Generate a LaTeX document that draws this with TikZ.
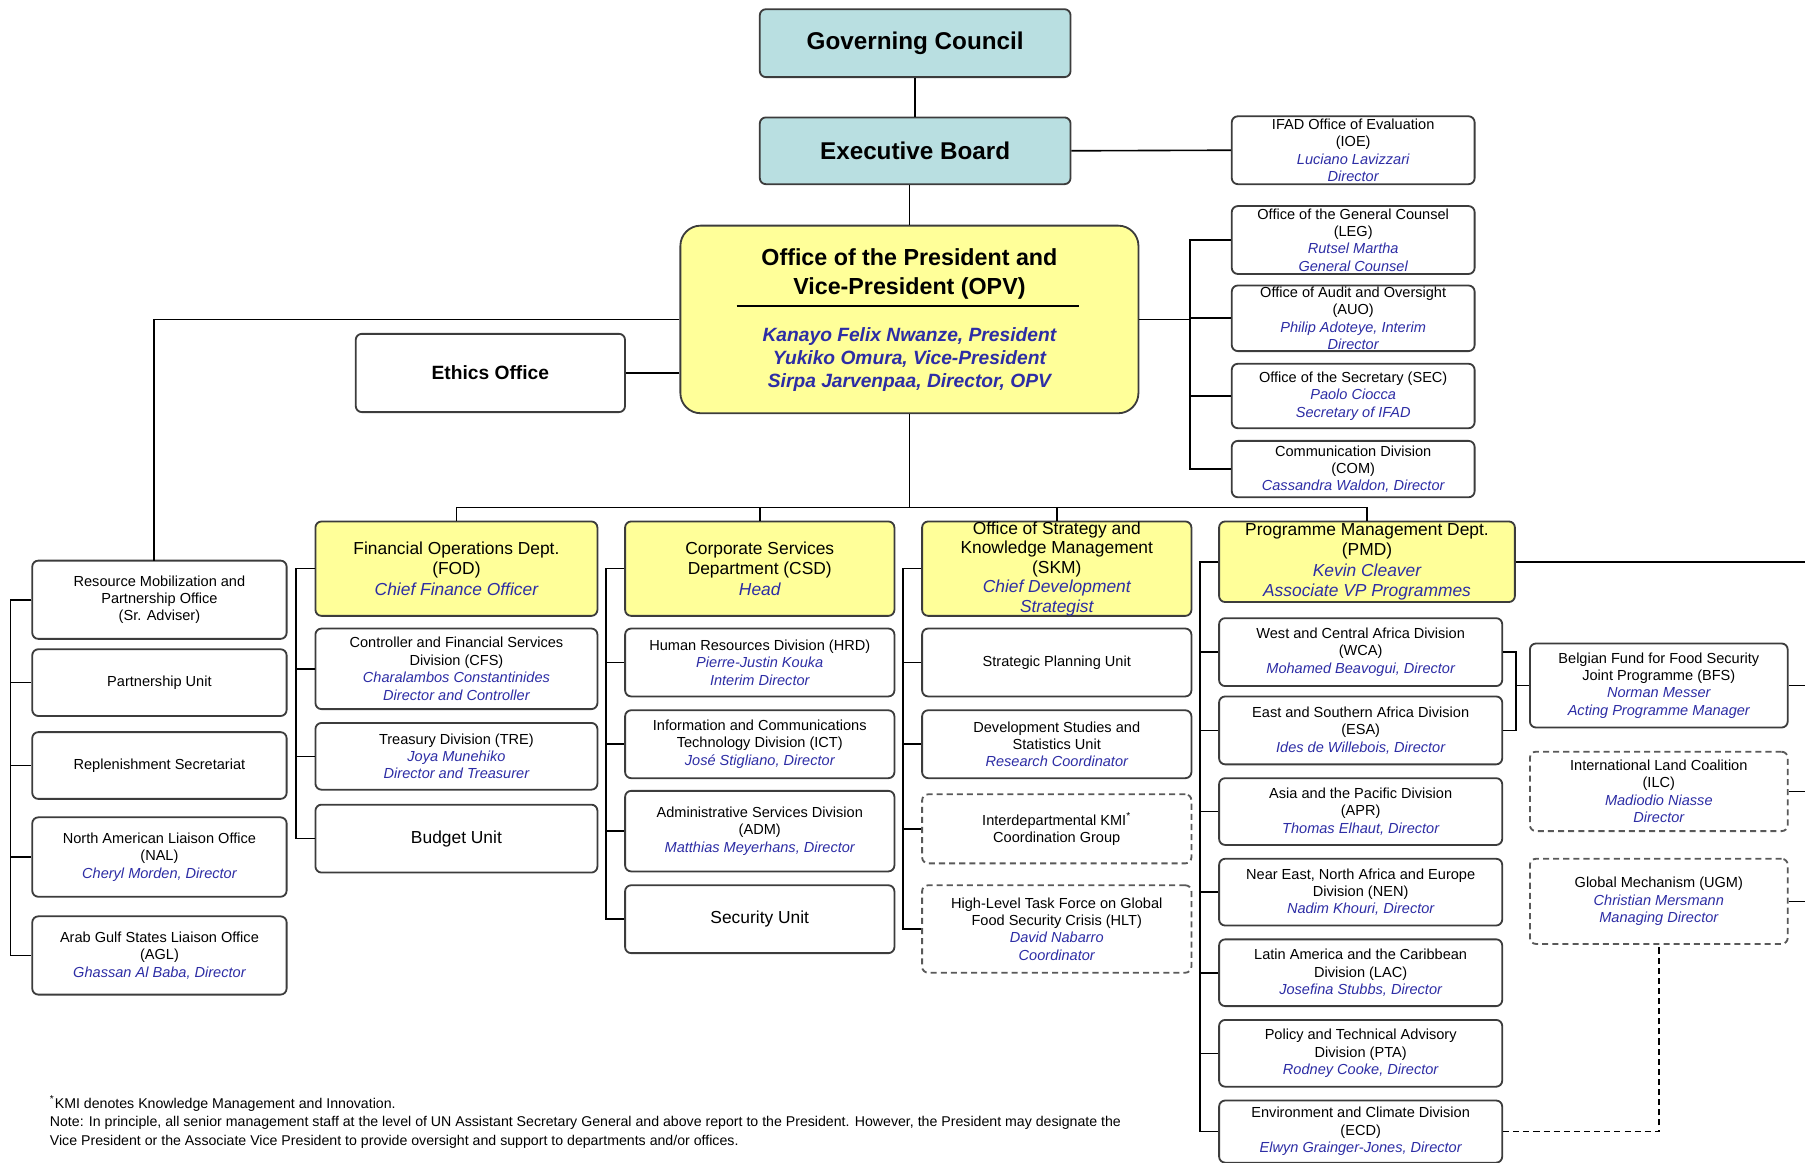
\documentclass[tikz,border=0pt]{standalone}
\usepackage{fontspec}
\setmainfont{Liberation Sans}

\definecolor{boardteal}{RGB}{185,223,225}
\definecolor{deptyellow}{RGB}{255,255,153}
\definecolor{nameblue}{RGB}{45,45,165}
\definecolor{boxline}{RGB}{60,60,60}

\newcommand{\who}[1]{{\color{nameblue}\itshape #1}}

\tikzset{
  unitbox/.style={draw=boxline, line width=0.9pt, rounded corners=3pt, fill=white,
    align=center, inner sep=0pt, font=\fontsize{7.2}{8.6}\selectfont},
  deptbox/.style={unitbox, fill=deptyellow, font=\fontsize{8.6}{10}\selectfont},
  boardbox/.style={unitbox, fill=boardteal, font=\fontsize{12}{14}\selectfont\bfseries},
  loosebox/.style={unitbox, draw=boxline!85, dash pattern=on 3pt off 2pt},
  bigunit/.style={font=\fontsize{8.6}{10}\selectfont},
  link/.style={line width=0.8pt, black},
}

\begin{document}
\begin{tikzpicture}[x=0.02cm, y=-0.02cm]
        \useasboundingbox (0,0) rectangle (1568,1010);

        % Governing bodies
        \node[boardbox, minimum width=5.4cm, minimum height=1.18cm] (gc) at (795,37.5) {Governing Council};
        \node[boardbox, minimum width=5.4cm, minimum height=1.16cm] (eb) at (795,131) {Executive Board};

        % Office of the President
        \node[unitbox, fill=deptyellow, rounded corners=10pt, minimum width=7.96cm, minimum height=3.26cm] (opv) at (790,277.5) {};
        \node[font=\fontsize{11.5}{14.2}\selectfont\bfseries, align=center, inner sep=0pt] (opvtitle) at (790,238) {Office of the President and\\Vice-President (OPV)};
        \draw[line width=0.8pt] (640,266) -- (937,266);
        \node[font=\fontsize{9.5}{11.4}\selectfont\bfseries\itshape, text=nameblue, align=center, inner sep=0pt] (opvnames) at (790,312) {Kanayo Felix Nwanze, President\\Yukiko Omura, Vice-President\\Sirpa Jarvenpaa, Director, OPV};
        \node[unitbox, minimum width=4.68cm, minimum height=1.36cm, font=\fontsize{9.5}{11}\selectfont\bfseries] (eth) at (426,324) {Ethics Office};

        % Offices on the right
        \node[unitbox, minimum width=4.22cm, minimum height=1.18cm] (ioe) at (1175.5,130.5) {IFAD Office of Evaluation\\(IOE)\\\who{Luciano Lavizzari}\\\who{Director}};
        \node[unitbox, minimum width=4.22cm, minimum height=1.18cm] (leg) at (1175.5,208.5) {Office of the General Counsel\\(LEG)\\\who{Rutsel Martha}\\\who{General Counsel}};
        \node[unitbox, minimum width=4.22cm, minimum height=1.14cm] (auo) at (1175.5,276.5) {Office of Audit and Oversight\\(AUO)\\\who{Philip Adoteye, Interim}\\\who{Director}};
        \node[unitbox, minimum width=4.22cm, minimum height=1.12cm] (sec) at (1175.5,344) {Office of the Secretary (SEC)\\\who{Paolo Ciocca}\\\who{Secretary of IFAD}};
        \node[unitbox, minimum width=4.22cm, minimum height=0.98cm] (com) at (1175.5,407.5) {Communication Division\\(COM)\\\who{Cassandra Waldon, Director}};

        % Offices on the left
        \node[unitbox, minimum width=4.42cm, minimum height=1.36cm] (rm) at (138.5,521) {Resource Mobilization and\\Partnership Office\\(Sr. Adviser)};
        \node[unitbox, minimum width=4.42cm, minimum height=1.16cm] (pu) at (138.5,593) {Partnership Unit};
        \node[unitbox, minimum width=4.42cm, minimum height=1.16cm] (rep) at (138.5,665) {Replenishment Secretariat};
        \node[unitbox, minimum width=4.42cm, minimum height=1.38cm] (nal) at (138.5,744.5) {North American Liaison Office\\(NAL)\\\who{Cheryl Morden, Director}};
        \node[unitbox, minimum width=4.42cm, minimum height=1.36cm] (agl) at (138.5,830) {Arab Gulf States Liaison Office\\(AGL)\\\who{Ghassan Al Baba, Director}};

        % Departments
        \node[deptbox, minimum width=4.9cm, minimum height=1.64cm] (fod) at (396.5,494) {Financial Operations Dept.\\(FOD)\\\who{Chief Finance Officer}};
        \node[deptbox, minimum width=4.68cm, minimum height=1.64cm] (csd) at (660,494) {Corporate Services\\Department (CSD)\\\who{Head}};
        \node[deptbox, minimum width=4.68cm, minimum height=1.64cm, font=\fontsize{8.6}{9.6}\selectfont] (skm) at (918,494) {Office of Strategy and\\Knowledge Management\\(SKM)\\\who{Chief Development}\\\who{Strategist}};
        \node[deptbox, minimum width=5.14cm, minimum height=1.4cm] (pmd) at (1187.5,488) {Programme Management Dept.\\(PMD)\\\who{Kevin Cleaver}\\\who{Associate VP Programmes}};

        % FOD units
        \node[unitbox, minimum width=4.9cm, minimum height=1.4cm] (cfs) at (396.5,581) {Controller and Financial Services\\Division (CFS)\\\who{Charalambos Constantinides}\\\who{Director and Controller}};
        \node[unitbox, minimum width=4.9cm, minimum height=1.16cm] (tre) at (396.5,657) {Treasury Division (TRE)\\\who{Joya Munehiko}\\\who{Director and Treasurer}};
        \node[unitbox, bigunit, minimum width=4.9cm, minimum height=1.18cm] (bud) at (396.5,728.5) {Budget Unit};

        % CSD units
        \node[unitbox, minimum width=4.68cm, minimum height=1.18cm] (hrd) at (660,575.5) {Human Resources Division (HRD)\\\who{Pierre-Justin Kouka}\\\who{Interim Director}};
        \node[unitbox, minimum width=4.68cm, minimum height=1.18cm] (ict) at (660,646.5) {Information and Communications\\Technology Division (ICT)\\\who{José Stigliano, Director}};
        \node[unitbox, minimum width=4.68cm, minimum height=1.4cm] (adm) at (660,722) {Administrative Services Division\\(ADM)\\\who{Matthias Meyerhans, Director}};
        \node[unitbox, bigunit, minimum width=4.68cm, minimum height=1.18cm] (secu) at (660,798.5) {Security Unit};

        % SKM units
        \node[unitbox, minimum width=4.68cm, minimum height=1.18cm] (spu) at (918,575.5) {Strategic Planning Unit};
        \node[unitbox, minimum width=4.68cm, minimum height=1.18cm] (dss) at (918,646.5) {Development Studies and\\Statistics Unit\\\who{Research Coordinator}};
        \node[loosebox, minimum width=4.68cm, minimum height=1.2cm] (kmi) at (918,720) {Interdepartmental KMI\textsuperscript{*}\\Coordination Group};
        \node[loosebox, minimum width=4.68cm, minimum height=1.52cm] (hlt) at (918,807) {High-Level Task Force on Global\\Food Security Crisis (HLT)\\\who{David Nabarro}\\\who{Coordinator}};

        % PMD divisions
        \node[unitbox, minimum width=4.92cm, minimum height=1.18cm] (wca) at (1182,566.5) {West and Central Africa Division\\(WCA)\\\who{Mohamed Beavogui, Director}};
        \node[unitbox, minimum width=4.92cm, minimum height=1.18cm] (esa) at (1182,634.5) {East and Southern Africa Division\\(ESA)\\\who{Ides de Willebois, Director}};
        \node[unitbox, minimum width=4.92cm, minimum height=1.16cm] (apr) at (1182,705) {Asia and the Pacific Division\\(APR)\\\who{Thomas Elhaut, Director}};
        \node[unitbox, minimum width=4.92cm, minimum height=1.16cm] (nen) at (1182,775) {Near East, North Africa and Europe\\Division (NEN)\\\who{Nadim Khouri, Director}};
        \node[unitbox, minimum width=4.92cm, minimum height=1.16cm] (lac) at (1182,845) {Latin America and the Caribbean\\Division (LAC)\\\who{Josefina Stubbs, Director}};
        \node[unitbox, minimum width=4.92cm, minimum height=1.16cm] (pta) at (1182,915) {Policy and Technical Advisory\\Division (PTA)\\\who{Rodney Cooke, Director}};
        \node[unitbox, minimum width=4.92cm, minimum height=1.08cm] (ecd) at (1182,983) {Environment and Climate Division\\(ECD)\\\who{Elwyn Grainger-Jones, Director}};

        % Programmes
        \node[unitbox, minimum width=4.48cm, minimum height=1.46cm] (bfs) at (1441,595.5) {Belgian Fund for Food Security\\Joint Programme (BFS)\\\who{Norman Messer}\\\who{Acting Programme Manager}};
        \node[loosebox, minimum width=4.48cm, minimum height=1.38cm] (ilc) at (1441,687.5) {International Land Coalition\\(ILC)\\\who{Madiodio Niasse}\\\who{Director}};
        \node[loosebox, minimum width=4.48cm, minimum height=1.48cm] (ugm) at (1441,783) {Global Mechanism (UGM)\\\who{Christian Mersmann}\\\who{Managing Director}};

        % Connectors
        \coordinate (bus) at (790,441);
        \coordinate (edge) at (1568,0);
        \coordinate (rmtop) at (134,487);
        \draw[link] (gc) -- (eb);
        \draw[link] (eb.east) -- (ioe.west);
        \draw[link] (eb.south -| opv.north) -- (opv.north);
        \draw[link] (eth.east) -- (eth.east -| opv.west);
        \draw[link] (opv.west) -| (rmtop);
        \foreach \n in {leg,auo,sec,com}
            \draw[link] (opv.east) -- ++(44,0) |- (\n.west);
        \foreach \n in {pu,rep,nal,agl}
            \draw[link] (rm.west) -- ++(-18,0) |- (\n.west);
        \draw[link] (opv.south) -- (bus);
        \foreach \n in {fod,csd,skm,pmd}
            \draw[link] (bus) -| (\n.north);
        \foreach \n in {cfs,tre,bud}
            \draw[link] (fod.west) -- ++(-16,0) |- (\n.west);
        \foreach \n in {hrd,ict,adm,secu}
            \draw[link] (csd.west) -- ++(-16,0) |- (\n.west);
        \foreach \n in {spu,dss,kmi,hlt}
            \draw[link] (skm.west) -- ++(-16,0) |- (\n.west);
        \foreach \n in {wca,esa,apr,nen,lac,pta,ecd}
            \draw[link] (pmd.west) -- ++(-16,0) |- (\n.west);
        \draw[link] (wca.east) -- ++(11,0) coordinate (wcab) |- (esa.east);
        \draw[link] (bfs.west) -- (bfs.west -| wcab);
        \foreach \n in {pmd,bfs,ilc,ugm}
            \draw[link] (\n.east) -- (\n.east -| edge);
        \draw[link, dash pattern=on 3pt off 2pt] (ecd.east) -| (ugm.south);

        % Notes
        \node[anchor=north west, inner sep=0pt, align=left, font=\fontsize{7}{9.1}\selectfont] (note) at (43,951) {\textsuperscript{*}KMI denotes Knowledge Management and Innovation.\\Note: In principle, all senior management staff at the level of UN Assistant Secretary General and above report to the President. However, the President may designate the\\Vice President or the Associate Vice President to provide oversight and support to departments and/or offices.};

    \end{tikzpicture}
\end{document}
